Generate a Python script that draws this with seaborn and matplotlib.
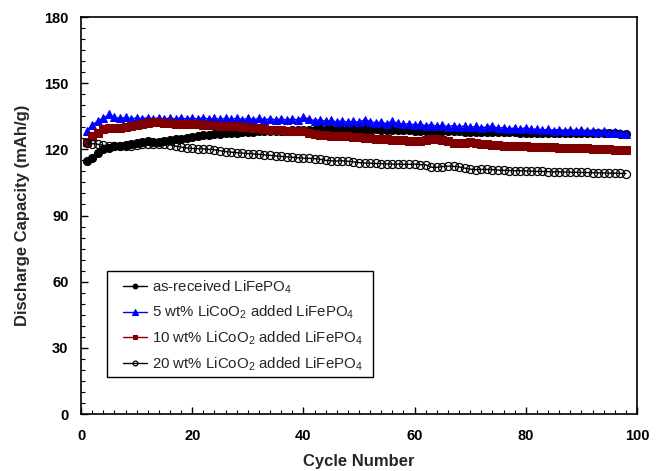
import numpy as np
import pandas as pd
import matplotlib
matplotlib.use("Agg")
import matplotlib.pyplot as plt
import seaborn as sns
from matplotlib.ticker import MultipleLocator
from matplotlib.patches import Rectangle

sns.set_theme(style="white")
plt.rcParams['font.family'] = ['Liberation Sans', 'DejaVu Sans']
plt.rcParams['mathtext.default'] = 'regular'

cycles = list(range(1, 99))

as_received = [114.5, 116.2, 118.5, 120.0, 120.8, 121.3, 121.5, 122.0, 122.5, 123.0,
               123.2, 123.6, 123.2, 123.5, 123.8, 124.2, 124.5, 124.8, 125.2, 125.6,
               126.0, 126.3, 126.6, 126.9, 127.1, 127.3, 127.5, 127.6, 127.8, 127.9,
               128.0, 128.1, 128.2, 128.3, 128.4, 128.4, 128.5, 128.6, 128.7, 128.8,
               128.8, 128.9, 129.0, 128.9, 129.0, 129.0, 128.9, 129.0, 129.1, 129.0,
               129.0, 128.9, 129.0, 128.8, 128.9, 128.7, 128.8, 128.6, 128.6, 128.5,
               128.5, 128.4, 128.5, 128.3, 128.3, 128.2, 128.2, 128.1, 128.0, 128.0,
               127.9, 127.9, 127.9, 127.8, 127.8, 127.7, 127.7, 127.7, 127.6, 127.6,
               127.6, 127.5, 127.5, 127.5, 127.4, 127.4, 127.4, 127.4, 127.3, 127.3,
               127.3, 127.3, 127.2, 127.2, 127.2, 127.2, 127.1, 127.1]

licoo2_5 = [128.5, 131.0, 132.8, 134.0, 135.8, 134.6, 134.0, 134.5, 133.8, 134.3,
            133.9, 134.4, 133.8, 134.3, 133.7, 134.2, 133.8, 134.3, 133.7, 134.2,
            133.8, 134.3, 133.7, 134.1, 133.6, 134.1, 133.6, 134.1, 133.5, 134.0,
            133.5, 134.0, 133.4, 133.9, 133.4, 133.8, 133.3, 133.8, 133.3, 134.5,
            133.8, 133.0, 133.4, 132.7, 133.1, 132.4, 132.9, 132.3, 132.8, 132.2,
            133.5, 132.6, 132.0, 132.3, 131.6, 132.8, 131.8, 131.3, 131.7, 131.0,
            131.4, 130.8, 131.2, 130.5, 130.9, 130.3, 130.8, 130.2, 130.6, 130.0,
            130.4, 129.8, 130.2, 130.6, 129.6, 129.9, 129.3, 129.7, 129.1, 129.9,
            129.0, 129.3, 128.7, 129.1, 128.5, 128.9, 128.4, 128.8, 128.3, 128.6,
            128.1, 128.5, 127.9, 128.2, 127.6, 127.9, 127.2, 126.8]

licoo2_10 = [123.3, 126.0, 127.6, 129.0, 129.8, 129.6, 129.9, 130.3, 130.6, 131.2,
             131.6, 132.0, 132.3, 132.2, 132.0, 131.8, 131.7, 131.6, 131.5, 131.4,
             131.3, 131.2, 131.0, 130.9, 130.8, 130.7, 130.6, 130.4, 130.3, 130.1,
             129.8, 129.5, 129.2, 128.9, 128.7, 128.6, 128.5, 128.4, 128.3, 128.2,
             127.6, 127.0, 126.5, 126.3, 126.2, 126.1, 126.0, 125.9, 125.8, 125.6,
             125.3, 125.0, 124.8, 124.6, 124.5, 124.4, 124.3, 124.2, 124.0, 123.9,
             123.8, 124.4, 124.8, 124.6, 124.4, 123.8, 123.1, 123.0, 122.8, 123.3,
             123.0, 122.5, 122.2, 122.0, 121.8, 121.7, 121.6, 121.5, 121.4, 121.3,
             121.2, 121.1, 121.0, 121.0, 120.9, 120.8, 120.8, 120.7, 120.6, 120.5,
             120.4, 120.3, 120.2, 120.1, 120.0, 119.9, 119.8, 119.7]

licoo2_20 = [123.0, 122.6, 122.3, 121.8, 121.6, 121.5, 121.5, 121.6, 121.7, 122.0,
             122.3, 122.5, 122.4, 122.3, 122.2, 122.0, 121.5, 121.0, 120.6, 120.4,
             120.3, 120.2, 120.0, 119.8, 119.4, 119.0, 118.7, 118.5, 118.3, 118.1,
             117.9, 117.7, 117.5, 117.3, 117.0, 116.8, 116.6, 116.4, 116.2, 116.0,
             115.9, 115.8, 115.5, 115.0, 114.8, 114.7, 114.8, 114.6, 114.3, 114.0,
             113.8, 113.7, 113.6, 113.5, 113.4, 113.3, 113.3, 113.2, 113.2, 113.3,
             113.1, 113.0, 111.9, 111.8, 112.2, 112.4, 112.3, 112.0, 111.5, 111.0,
             110.8, 110.9, 110.9, 110.8, 110.6, 110.5, 110.4, 110.3, 110.3, 110.2,
             110.1, 110.0, 110.0, 109.9, 109.8, 109.8, 109.7, 109.6, 109.6, 109.5,
             109.5, 109.4, 109.3, 109.3, 109.2, 109.2, 109.1, 109.0]

labels = ["as-received LiFePO$_4$",
          "5 wt% LiCoO$_2$ added LiFePO$_4$",
          "10 wt% LiCoO$_2$ added LiFePO$_4$",
          "20 wt% LiCoO$_2$ added LiFePO$_4$"]

fig = plt.figure(figsize=(6.62, 4.71), dpi=100)
ax = fig.add_axes([0.1224, 0.121, 0.8398, 0.8429])

styles = [
    dict(color="black", marker="o", markerfacecolor="black", markeredgecolor="black", markersize=5.8),
    dict(color="#0000ff", marker="^", markerfacecolor="#0000ff", markeredgecolor="#0000ff", markersize=6.3),
    dict(color="#800000", marker="s", markerfacecolor="#800000", markeredgecolor="#800000", markersize=5.3),
    dict(color="black", marker="o", markerfacecolor="none", markeredgecolor="black", markersize=5.8,
         markeredgewidth=0.9),
]
series = [as_received, licoo2_5, licoo2_10, licoo2_20]

for vals, lab, st in zip(series, labels, styles):
    df = pd.DataFrame({"Cycle": cycles, "Capacity": vals})
    sns.lineplot(data=df, x="Cycle", y="Capacity", ax=ax, label=lab, linewidth=1.0, **st)

ax.set_xlim(0, 100)
ax.set_ylim(0, 180)
ax.xaxis.set_major_locator(MultipleLocator(20))
ax.xaxis.set_minor_locator(MultipleLocator(2))
ax.yaxis.set_major_locator(MultipleLocator(30))
ax.yaxis.set_minor_locator(MultipleLocator(5))
ax.tick_params(axis="both", which="both", direction="in", bottom=True, left=True,
               top=False, right=False, colors="black")
ax.tick_params(which="major", length=5, width=1.0, labelsize=10.5)
ax.tick_params(axis="x", which="major", pad=11)
ax.tick_params(axis="y", which="major", pad=9)
ax.tick_params(which="minor", length=3, width=0.8)
for lbl in ax.get_xticklabels() + ax.get_yticklabels():
    lbl.set_fontweight("bold")
for s in ax.spines.values():
    s.set_visible(True)
    s.set_color("black")
    s.set_linewidth(1.2)

ax.set_xlabel("Cycle Number", fontsize=12, fontweight="bold", labelpad=8)
ax.set_ylabel("Discharge Capacity (mAh/g)", fontsize=12, fontweight="bold", labelpad=10)
ax.grid(False)

leg = ax.legend(loc="upper left", bbox_to_anchor=(0.0755, 0.342), fontsize=10.8,
                frameon=False, handlelength=1.6, handletextpad=0.3, labelspacing=0.55,
                borderpad=0.0, borderaxespad=0, markerscale=0.6)
leg.set_zorder(6)

# frame with asymmetric padding around the legend, placed in axes coordinates
fig.canvas.draw()
bb = leg.get_window_extent(fig.canvas.get_renderer())
pad_l, pad_r, pad_t, pad_b = 16, 11, 7, 4
inv = ax.transAxes.inverted()
(x0, y0) = inv.transform((bb.x0 - pad_l, bb.y0 - pad_b))
(x1, y1) = inv.transform((bb.x1 + pad_r, bb.y1 + pad_t))
rect = Rectangle((x0, y0), x1 - x0, y1 - y0, transform=ax.transAxes,
                 facecolor="white", edgecolor="black", linewidth=1.0,
                 zorder=5, clip_on=False)
ax.add_patch(rect)

fig.savefig("out.png", dpi=100)
